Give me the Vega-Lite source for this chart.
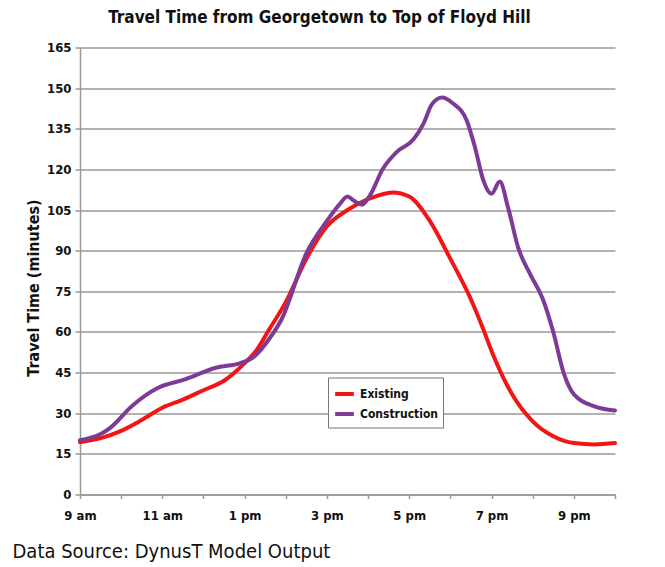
{
  "$schema": "https://vega.github.io/schema/vega-lite/v6.json",
  "width": 535,
  "height": 447,
  "autosize": {"type": "none"},
  "padding": {"left": 80, "top": 47.5, "right": 50, "bottom": 72.5},
  "background": "white",
  "title": {
    "text": "Travel Time from Georgetown to Top of Floyd Hill",
    "font": "DejaVu Sans Condensed, Roboto, sans-serif",
    "fontSize": 17,
    "fontWeight": "bold",
    "color": "#111",
    "anchor": "middle",
    "dx": -28,
    "offset": 15
  },
  "data": {
    "values": [
      {"series": "Existing", "hour": 9.0, "minutes": 19.3},
      {"series": "Existing", "hour": 9.5, "minutes": 20.8},
      {"series": "Existing", "hour": 10.0, "minutes": 23.5},
      {"series": "Existing", "hour": 10.5, "minutes": 27.5},
      {"series": "Existing", "hour": 11.0, "minutes": 32},
      {"series": "Existing", "hour": 11.5, "minutes": 35},
      {"series": "Existing", "hour": 12.0, "minutes": 38.5},
      {"series": "Existing", "hour": 12.5, "minutes": 42},
      {"series": "Existing", "hour": 13.0, "minutes": 48.5},
      {"series": "Existing", "hour": 13.3, "minutes": 53.5},
      {"series": "Existing", "hour": 13.6, "minutes": 61},
      {"series": "Existing", "hour": 14.0, "minutes": 71},
      {"series": "Existing", "hour": 14.5, "minutes": 87},
      {"series": "Existing", "hour": 15.0, "minutes": 99},
      {"series": "Existing", "hour": 15.5, "minutes": 105},
      {"series": "Existing", "hour": 16.0, "minutes": 109},
      {"series": "Existing", "hour": 16.6, "minutes": 111.5},
      {"series": "Existing", "hour": 17.0, "minutes": 110},
      {"series": "Existing", "hour": 17.5, "minutes": 101},
      {"series": "Existing", "hour": 18.0, "minutes": 87},
      {"series": "Existing", "hour": 18.5, "minutes": 72},
      {"series": "Existing", "hour": 18.8, "minutes": 61},
      {"series": "Existing", "hour": 19.0, "minutes": 53},
      {"series": "Existing", "hour": 19.5, "minutes": 37},
      {"series": "Existing", "hour": 20.0, "minutes": 27},
      {"series": "Existing", "hour": 20.5, "minutes": 21.5},
      {"series": "Existing", "hour": 21.0, "minutes": 19},
      {"series": "Existing", "hour": 21.5, "minutes": 18.5},
      {"series": "Existing", "hour": 22.0, "minutes": 19},
      {"series": "Construction", "hour": 9.0, "minutes": 20},
      {"series": "Construction", "hour": 9.5, "minutes": 22.3},
      {"series": "Construction", "hour": 9.75, "minutes": 24.8},
      {"series": "Construction", "hour": 10.25, "minutes": 32.5},
      {"series": "Construction", "hour": 10.9, "minutes": 39.4},
      {"series": "Construction", "hour": 11.55, "minutes": 42.5},
      {"series": "Construction", "hour": 12.3, "minutes": 46.8},
      {"series": "Construction", "hour": 12.9, "minutes": 48.5},
      {"series": "Construction", "hour": 13.2, "minutes": 50.5},
      {"series": "Construction", "hour": 13.6, "minutes": 57.5},
      {"series": "Construction", "hour": 13.9, "minutes": 64.7},
      {"series": "Construction", "hour": 14.5, "minutes": 89},
      {"series": "Construction", "hour": 15.0, "minutes": 101},
      {"series": "Construction", "hour": 15.3, "minutes": 107},
      {"series": "Construction", "hour": 15.5, "minutes": 110},
      {"series": "Construction", "hour": 15.65, "minutes": 108.5},
      {"series": "Construction", "hour": 15.85, "minutes": 107},
      {"series": "Construction", "hour": 16.05, "minutes": 110.5},
      {"series": "Construction", "hour": 16.35, "minutes": 120},
      {"series": "Construction", "hour": 16.7, "minutes": 126.5},
      {"series": "Construction", "hour": 17.1, "minutes": 131},
      {"series": "Construction", "hour": 17.35, "minutes": 137},
      {"series": "Construction", "hour": 17.55, "minutes": 144},
      {"series": "Construction", "hour": 17.8, "minutes": 146.5},
      {"series": "Construction", "hour": 18.05, "minutes": 144.5},
      {"series": "Construction", "hour": 18.4, "minutes": 138},
      {"series": "Construction", "hour": 18.6, "minutes": 128},
      {"series": "Construction", "hour": 18.8, "minutes": 116},
      {"series": "Construction", "hour": 19.0, "minutes": 111},
      {"series": "Construction", "hour": 19.2, "minutes": 115.5},
      {"series": "Construction", "hour": 19.4, "minutes": 106},
      {"series": "Construction", "hour": 19.65, "minutes": 91},
      {"series": "Construction", "hour": 19.95, "minutes": 81},
      {"series": "Construction", "hour": 20.25, "minutes": 72},
      {"series": "Construction", "hour": 20.5, "minutes": 60},
      {"series": "Construction", "hour": 20.75, "minutes": 45},
      {"series": "Construction", "hour": 21.0, "minutes": 37},
      {"series": "Construction", "hour": 21.5, "minutes": 32.5},
      {"series": "Construction", "hour": 22.0, "minutes": 31}
    ]
  },
  "mark": {"type": "line", "interpolate": "monotone", "strokeWidth": 4, "strokeCap": "round"},
  "encoding": {
    "x": {
      "field": "hour",
      "type": "quantitative",
      "scale": {"domain": [9, 22], "nice": false, "zero": false},
      "axis": {
        "values": [9, 10, 11, 12, 13, 14, 15, 16, 17, 18, 19, 20, 21, 22],
        "labelExpr": "datum.value % 2 == 1 ? (datum.value < 12 ? datum.value + ' am' : (datum.value - 12) + ' pm') : ''",
        "grid": false,
        "domainColor": "#999",
        "domainWidth": 1.5,
        "tickColor": "#999",
        "tickSize": 4,
        "tickWidth": 1.5,
        "labelFont": "DejaVu Sans Condensed, Roboto, sans-serif",
        "labelFontSize": 13,
        "labelFontWeight": "bold",
        "labelColor": "#111",
        "labelPadding": 11,
        "labelFlush": false,
        "title": "Data Source: DynusT Model Output",
        "titleFont": "DejaVu Sans Condensed, Roboto, sans-serif",
        "titleFontSize": 20,
        "titleFontWeight": "normal",
        "titleColor": "#111",
        "titleAnchor": "start",
        "titleAlign": "left",
        "titleX": -68,
        "titleY": 57,
        "titleBaseline": "middle"
      }
    },
    "y": {
      "field": "minutes",
      "type": "quantitative",
      "scale": {"domain": [0, 165], "nice": false},
      "axis": {
        "values": [0, 15, 30, 45, 60, 75, 90, 105, 120, 135, 150, 165],
        "grid": true,
        "gridColor": "#999",
        "gridWidth": 1.5,
        "domainColor": "#999",
        "domainWidth": 1.5,
        "tickColor": "#999",
        "tickSize": 5,
        "tickWidth": 1.5,
        "labelFont": "DejaVu Sans Condensed, Roboto, sans-serif",
        "labelFontSize": 13,
        "labelFontWeight": "bold",
        "labelColor": "#111",
        "labelPadding": 4,
        "title": "Travel Time (minutes)",
        "titleFont": "DejaVu Sans Condensed, Roboto, sans-serif",
        "titleFontSize": 16,
        "titleFontWeight": "bold",
        "titleColor": "#111",
        "titleX": -47,
        "titleY": 240,
        "titleAlign": "center",
        "titleBaseline": "middle",
        "titleAngle": -90
      }
    },
    "color": {
      "field": "series",
      "type": "nominal",
      "scale": {"domain": ["Existing", "Construction"], "range": ["#f41414", "#7d3b96"]},
      "legend": {
        "title": null,
        "orient": "none",
        "legendX": 248,
        "legendY": 330,
        "direction": "vertical",
        "strokeColor": "#777",
        "padding": 5,
        "fillColor": "white",
        "symbolType": "stroke",
        "symbolStrokeWidth": 4,
        "symbolSize": 350,
        "labelFont": "DejaVu Sans Condensed, Roboto, sans-serif",
        "labelFontSize": 12,
        "labelFontWeight": "bold",
        "labelColor": "#111",
        "rowPadding": 0
      }
    }
  },
  "config": {"view": {"stroke": null}}
}
